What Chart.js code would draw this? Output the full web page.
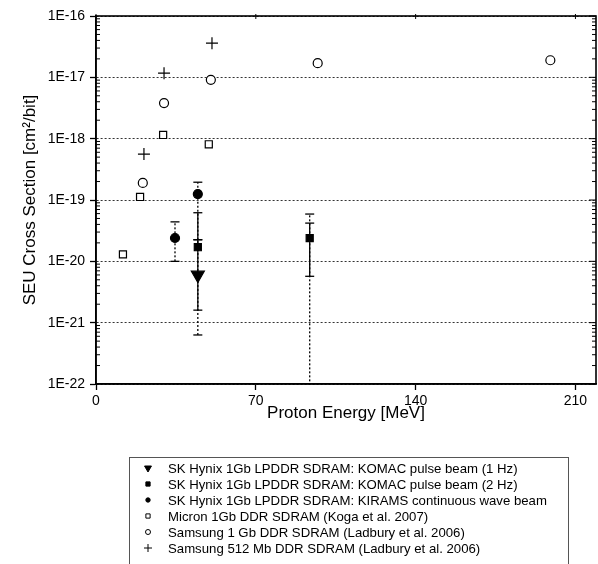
<!DOCTYPE html>
<html>
<head>
<meta charset="utf-8">
<script src="https://cdn.jsdelivr.net/npm/chart.js@4.4.1/dist/chart.umd.min.js"></script>
<style>
  body { margin: 0; background: #fff; }
  #wrap { position: relative; width: 598px; height: 564px; overflow: hidden; font-family: "Liberation Sans", Arial, sans-serif; }
  #seuChart { position: absolute; left: 0; top: 0; }
  #legend { position: absolute; left: 129px; top: 457px; width: 440px; height: 130px; border: 1px solid #555; box-sizing: border-box; padding-top: 2px; }
  .row { height: 16px; display: flex; align-items: center; font-size: 13.2px; white-space: nowrap; color: #000; }
  .row canvas { margin-left: 12px; margin-right: 14px; }
</style>
</head>
<body>
<div id="wrap">
  <canvas id="seuChart" width="598" height="450"></canvas>
  <div id="legend"></div>
</div>
<script>
// tick labels
const xTickValues = [0, 70, 140, 210];
const yDecades = [-22, -21, -20, -19, -18, -17, -16];
const yTickLabels = ['1E-22', '1E-21', '1E-20', '1E-19', '1E-18', '1E-17', '1E-16'];

// SK Hynix 1Gb LPDDR SDRAM (this work)
const komac1HzX = [44.6];
const komac1HzY = [6.0e-21];
const komac2HzX = [44.6, 93.6];
const komac2HzY = [1.7e-20, 2.4e-20];
const kiramsX = [34.6, 44.6];
const kiramsY = [2.4e-20, 1.25e-19];

// literature
const micronX = [11.8, 19.3, 29.4, 49.4];
const micronY = [1.3e-20, 1.12e-19, 1.15e-18, 8.1e-19];
const samsung1GbX = [20.5, 29.8, 50.3, 97.1, 199];
const samsung1GbY = [1.9e-19, 3.8e-18, 9.1e-18, 1.7e-17, 1.9e-17];
const samsung512X = [21, 29.8, 50.8];
const samsung512Y = [5.6e-19, 1.17e-17, 3.6e-17];

// error bars
const errSolidX = [44.6, 93.6];
const errSolidLo = [1.6e-21, 5.7e-21];
const errSolidHi = [6.2e-20, 4.2e-20];
const errDotX = [34.6, 44.6, 44.6, 93.6];
const errDotLo = [1.0e-20, 2.25e-20, 6.3e-22, 1e-23];
const errDotHi = [4.4e-20, 1.95e-19, 2.25e-20, 5.9e-20];

const pts = (xs, ys) => xs.map((x, i) => ({ x: x, y: ys[i] }));

const series = [
  { label: 'SK Hynix 1Gb LPDDR SDRAM: KOMAC pulse beam (1 Hz)', data: pts(komac1HzX, komac1HzY),
    pointStyle: 'triangle', rotation: 180, pointRadius: 7.5, backgroundColor: '#000', borderColor: '#000', legendRadius: 4 },
  { label: 'SK Hynix 1Gb LPDDR SDRAM: KOMAC pulse beam (2 Hz)', data: pts(komac2HzX, komac2HzY),
    pointStyle: 'rect', pointRadius: 5, backgroundColor: '#000', borderColor: '#000', legendRadius: 3 },
  { label: 'SK Hynix 1Gb LPDDR SDRAM: KIRAMS continuous wave beam', data: pts(kiramsX, kiramsY),
    pointStyle: 'circle', pointRadius: 4.5, backgroundColor: '#000', borderColor: '#000', legendRadius: 2.2 },
  { label: 'Micron 1Gb DDR SDRAM (Koga et al. 2007)', data: pts(micronX, micronY),
    pointStyle: 'rect', pointRadius: 5, backgroundColor: '#fff', borderColor: '#000', legendRadius: 3 },
  { label: 'Samsung 1 Gb DDR SDRAM (Ladbury et al. 2006)', data: pts(samsung1GbX, samsung1GbY),
    pointStyle: 'circle', pointRadius: 4.5, backgroundColor: '#fff', borderColor: '#000', legendRadius: 2.5 },
  { label: 'Samsung 512 Mb DDR SDRAM (Ladbury et al. 2006)', data: pts(samsung512X, samsung512Y),
    pointStyle: 'cross', pointRadius: 6, backgroundColor: '#000', borderColor: '#000', legendRadius: 4 }
];

const datasets = series.map(s => ({
  label: s.label,
  data: s.data,
  pointStyle: s.pointStyle,
  rotation: s.rotation || 0,
  pointRadius: s.pointRadius,
  pointHoverRadius: s.pointRadius,
  pointBackgroundColor: s.backgroundColor,
  pointBorderColor: s.borderColor,
  pointBorderWidth: 1.2,
  showLine: false
}));

const errorBar = (x, lo, hi, dash) => ({
  label: '',
  data: [{ x: x, y: lo }, { x: x, y: hi }],
  showLine: true,
  borderColor: '#000',
  borderWidth: 1.3,
  borderDash: dash,
  pointStyle: 'line',
  pointRadius: 4.5,
  pointHoverRadius: 4.5,
  pointBorderColor: '#000',
  pointBorderWidth: 1.3
});
errSolidX.forEach((x, i) => datasets.push(errorBar(x, errSolidLo[i], errSolidHi[i], [])));
errDotX.forEach((x, i) => datasets.push(errorBar(x, errDotLo[i], errDotHi[i], [2, 2])));

const frameAndMinor = {
  id: 'frameAndMinor',
  afterDatasetsDraw(chart) {
    const { ctx, chartArea: a, scales } = chart;
    const seg = (x1, y1, x2, y2) => { ctx.beginPath(); ctx.moveTo(x1, y1); ctx.lineTo(x2, y2); ctx.stroke(); };
    ctx.save();
    ctx.strokeStyle = '#000';
    ctx.lineWidth = 1;
    yDecades.slice(0, -1).forEach(e => {
      for (let m = 2; m <= 9; m++) {
        const py = scales.y.getPixelForValue(m * Math.pow(10, e));
        seg(a.left, py, a.left + 4, py);
        seg(a.right - 4, py, a.right, py);
      }
    });
    yDecades.forEach(e => {
      const py = scales.y.getPixelForValue(Math.pow(10, e));
      seg(a.right - 7, py, a.right, py);
    });
    xTickValues.forEach(v => {
      const px = scales.x.getPixelForValue(v);
      seg(px, a.top - 2, px, a.top + 3);
    });
    ctx.lineWidth = 1.6;
    ctx.strokeRect(a.left, a.top, a.right - a.left, a.bottom - a.top);
    ctx.restore();
  }
};

const seuChart = new Chart(document.getElementById('seuChart'), {
  type: 'scatter',
  data: { datasets },
  options: {
    responsive: false,
    animation: false,
    layout: { autoPadding: false, padding: { top: 16, right: 2, left: 0, bottom: 0 } },
    plugins: { legend: { display: false }, tooltip: { enabled: false } },
    scales: {
      x: {
        type: 'linear',
        min: 0,
        max: 219,
        afterBuildTicks: scale => { scale.ticks = xTickValues.map(v => ({ value: v })); },
        afterFit: scale => { scale.height = 66; },
        ticks: { color: '#000', font: { family: 'Liberation Sans', size: 14 }, padding: 3 },
        grid: { drawOnChartArea: false, color: '#000', tickLength: 6, tickWidth: 1.3 },
        border: { color: '#000', width: 1.6 },
        title: { display: true, text: 'Proton Energy [MeV]', color: '#000',
          font: { family: 'Liberation Sans', size: 17 }, padding: { top: 0, bottom: 26 } }
      },
      y: {
        type: 'logarithmic',
        min: 1e-22,
        max: 1e-16,
        afterBuildTicks: scale => { scale.ticks = yDecades.map(e => ({ value: Math.pow(10, e) })); },
        afterFit: scale => { scale.width = 96; },
        ticks: { color: '#000', font: { family: 'Liberation Sans', size: 14 }, padding: 5,
          callback: (v, i) => yTickLabels[i] },
        grid: { color: '#333', lineWidth: 1, tickLength: 6, tickColor: '#000', tickWidth: 1.3 },
        border: { color: '#000', width: 1.6, dash: [2, 2] },
        title: { display: true, text: 'SEU Cross Section [cm²/bit]', color: '#000',
          font: { family: 'Liberation Sans', size: 17 }, padding: { top: 20, bottom: 0 } }
      }
    }
  },
  plugins: [frameAndMinor]
});

// legend built from the chart's own series
const legendBox = document.getElementById('legend');
series.forEach(s => {
  const row = document.createElement('div');
  row.className = 'row';
  const c = document.createElement('canvas');
  c.width = 12; c.height = 12;
  const g = c.getContext('2d');
  g.fillStyle = s.backgroundColor;
  g.strokeStyle = s.borderColor;
  g.lineWidth = 1;
  Chart.helpers.drawPoint(g, { pointStyle: s.pointStyle, rotation: s.rotation || 0, radius: s.legendRadius, borderWidth: 1 }, 6, 6);
  row.appendChild(c);
  const t = document.createElement('span');
  t.textContent = s.label;
  row.appendChild(t);
  legendBox.appendChild(row);
});
</script>
</body>
</html>
